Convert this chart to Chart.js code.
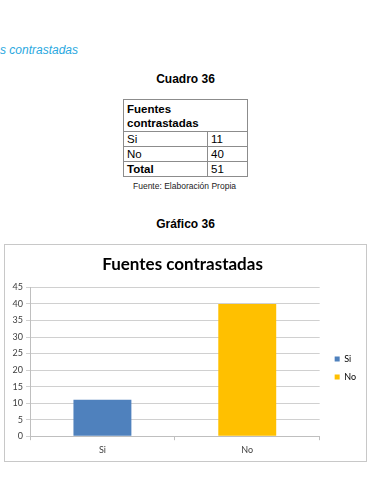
<!DOCTYPE html>
<html>
<head>
<meta charset="utf-8">
<script src="https://cdn.jsdelivr.net/npm/chart.js@4"></script>
<style>
  body { margin: 0; width: 371px; height: 479px; background: #fff; position: relative; overflow: hidden; font-family: "Liberation Sans", Arial, sans-serif; }
  .abs { position: absolute; }
  #sub { left: 0; top: 43px; font-size: 12px; font-style: italic; color: #2aa8e0; }
  .cap { left: 0; width: 371px; text-align: center; font-size: 12px; font-weight: bold; color: #000; }
  #tbl { left: 123px; top: 99px; border-collapse: collapse; font-size: 11.5px; color: #000; }
  #tbl td { border: 1px solid #8c8c8c; padding: 0 3px; height: 14px; line-height: 14px; }
  #fuente { left: 133px; top: 181px; font-size: 8.5px; color: #222; }
  #box { left: 4px; top: 244px; width: 361px; height: 216px; border: 1px solid #c8c8c8; }
</style>
</head>
<body>
<div id="sub" class="abs">s contrastadas</div>
<div class="abs cap" style="top:72px">Cuadro 36</div>
<table id="tbl" class="abs">
  <tr><td colspan="2" style="width:117px;height:30px;line-height:14px;font-weight:bold;padding-top:1px">Fuentes<br>contrastadas</td></tr>
  <tr><td style="width:77px">Si</td><td style="width:33px">11</td></tr>
  <tr><td>No</td><td>40</td></tr>
  <tr><td style="font-weight:bold">Total</td><td>51</td></tr>
</table>
<div id="fuente" class="abs">Fuente: Elaboración Propia</div>
<div class="abs cap" style="top:217px">Gráfico 36</div>
<div id="box" class="abs"><canvas id="chart" width="361" height="216"></canvas></div>
<script>
var categories = ["Si", "No"];
var values = [11, 40];
var colors = ['#4f81bd', '#ffc000'];
var yTicks = [0, 5, 10, 15, 20, 25, 30, 35, 40, 45];

// nudge the legend right and down, like the Excel original
var legendShift = {
    id: 'legendShift',
    afterLayout: function (chart) {
        chart.legend.left += 6;
        chart.legend.right += 6;
        chart.legend.top += 16;
        chart.legend.bottom += 16;
    }
};

var ctx = document.getElementById("chart").getContext("2d");
var chart = new Chart(ctx, {
    type: 'bar',
    data: {
        labels: categories,
        datasets: [{
            label: 'Fuentes contrastadas',
            data: values,
            backgroundColor: colors,
            categoryPercentage: 0.4,
            barPercentage: 1
        }]
    },
    options: {
        responsive: false,
        animation: false,
        layout: { padding: { left: 0, right: 6, top: 0, bottom: 2 } },
        scales: {
            x: {
                grid: { display: true, drawOnChartArea: false, offset: true, tickLength: 4, color: '#bfbfbf' },
                border: { color: '#bfbfbf' },
                ticks: { font: { family: 'Lato', size: 9 }, color: '#404040', padding: 4 }
            },
            y: {
                min: 0,
                max: 45,
                afterBuildTicks: function (scale) {
                    scale.ticks = yTicks.map(function (v) { return { value: v }; });
                },
                afterFit: function (scale) { scale.width = 25; },
                grid: { color: '#d0d0d0', tickLength: 4 },
                border: { color: '#bfbfbf' },
                ticks: { font: { family: 'Lato', size: 9 }, color: '#404040', padding: 3 }
            }
        },
        plugins: {
            title: {
                display: true,
                text: 'Fuentes contrastadas',
                color: '#000',
                font: { family: 'Lato', size: 17, weight: 'bold' },
                padding: { top: 9, bottom: 13 }
            },
            legend: {
                position: 'right',
                labels: {
                    boxWidth: 5,
                    boxHeight: 5,
                    padding: 9,
                    color: '#404040',
                    font: { family: 'Lato', size: 9 },
                    generateLabels: function (chart) {
                        return categories.map(function (c, i) {
                            return { text: c, fillStyle: colors[i], strokeStyle: colors[i], lineWidth: 0, index: i };
                        });
                    }
                }
            },
            tooltip: { enabled: false }
        }
    },
    plugins: [legendShift]
});
</script>
</body>
</html>
